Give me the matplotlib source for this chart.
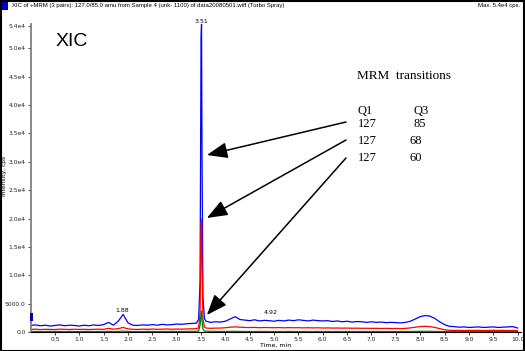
import numpy as np
import matplotlib
matplotlib.use('Agg')
import matplotlib.pyplot as plt
from matplotlib.patches import Rectangle

# Chromatogram data (cps)
# part A: 0.0 .. 3.4 min every 0.1 min
blue_a = [1150, 1250, 1100, 1200, 1050, 1150, 1250, 1100, 1200, 1150, 1050, 1200,
          1100, 1250, 1150, 1300, 1700, 1200, 1900, 3100, 1600, 1200, 1150, 1250,
          1200, 1300, 1200, 1350, 1250, 1300, 1400, 1350, 1450, 1500, 1550]
red_a = [450, 500, 420, 480, 460, 430, 500, 470, 440, 490, 450, 480, 430, 470, 500,
         460, 650, 500, 600, 800, 550, 480, 450, 500, 470, 520, 480, 500, 530, 490,
         520, 500, 540, 560, 580]
green_a = [80, 100, 70, 90, 110, 80, 95, 70, 100, 85, 75, 105, 90, 80, 100, 85, 120,
           90, 110, 150, 100, 85, 90, 80, 100, 95, 85, 100, 90, 110, 95, 100, 110,
           120, 130]

# part B: the spike at 3.51 min
spike_t = [3.45, 3.48, 3.50, 3.51, 3.52, 3.54, 3.57]
blue_s = [2200, 9000, 52000, 54300, 31000, 6000, 2400]
red_s = [700, 3500, 18500, 19900, 11000, 2200, 900]
green_s = [150, 1200, 3300, 3700, 2000, 500, 150]

# part C: 3.6 .. 10.0 min every 0.1 min
blue_c = [1900, 1700, 1800, 1750, 1900, 2300, 2700, 2200, 2100, 2000, 2150, 1950,
          2050, 2000, 1900, 2050, 1950, 2100, 2000, 2150, 2050, 1950, 2100, 2000,
          1950, 2000, 1850, 1950, 1800, 1900, 1750, 1850, 1800, 1700, 1800, 1700,
          1750, 1650, 1700, 1650, 1600, 1700, 1900, 2300, 2700, 2900, 2800, 2400,
          1800, 1300, 1000, 950, 850, 900, 800, 850, 900, 800, 850, 900, 800, 850,
          900, 950, 700]
red_c = [700, 650, 680, 700, 750, 850, 900, 850, 800, 780, 800, 760, 790, 770, 750,
         780, 740, 770, 750, 760, 730, 750, 720, 740, 700, 720, 690, 700, 680, 690,
         660, 680, 650, 660, 640, 650, 620, 640, 610, 620, 600, 640, 720, 850, 950,
         1000, 950, 800, 600, 400, 300, 280, 300, 260, 290, 270, 300, 260, 280, 300,
         270, 290, 260, 280, 250]
green_c = [150, 120, 110, 100, 95, 110, 120, 100, 90, 100, 85, 95, 100, 90, 80, 95,
           85, 100, 90, 80, 95, 85, 90, 100, 80, 90, 85, 95, 80, 90, 85, 80, 95, 85,
           80, 90, 85, 80, 90, 80, 85, 90, 95, 110, 120, 130, 120, 100, 90, 80, 70,
           75, 70, 80, 65, 75, 70, 80, 70, 65, 75, 70, 80, 70, 65]

time_a = np.round(np.arange(0.0, 3.41, 0.1), 2)
time_c = np.round(np.arange(3.6, 10.01, 0.1), 2)
time = np.concatenate([time_a, spike_t, time_c])
blue = np.concatenate([blue_a, blue_s, blue_c])
red = np.concatenate([red_a, red_s, red_c])
green = np.concatenate([green_a, green_s, green_c])

peak_labels = [(1.88, 3300, '1.88'), (3.51, 54300, '3.51'), (4.92, 3000, '4.92')]

x_ticks = np.round(np.arange(0.5, 10.01, 0.5), 1)
y_ticks = [0, 5000, 10000, 15000, 20000, 25000, 30000, 35000, 40000, 45000, 50000, 54000]
y_tick_labels = ['0.0', '5000.0', '1.0e4', '1.5e4', '2.0e4', '2.5e4', '3.0e4',
                 '3.5e4', '4.0e4', '4.5e4', '5.0e4', '5.4e4']

rows = [('Q1', 'Q3'), ('127', '85'), ('127', '68'), ('127', '60')]

W, H = 525, 351
fig = plt.figure(figsize=(W / 100, H / 100), dpi=100)
ax = fig.add_axes([30.6 / W, 19 / H, 490.4 / W, 308 / H])

ax.plot(time, blue, color='#0000ff', lw=0.9)
ax.plot(time, red, color='#ff0000', lw=0.9)
ax.plot(time, green, color='#008000', lw=0.9)

ax.set_xlim(0, 10.07)
ax.set_ylim(0, 54300)
ax.set_xticks(x_ticks)
ax.set_xticklabels([f'{v:.1f}' for v in x_ticks])
ax.set_yticks(y_ticks)
ax.set_yticklabels(y_tick_labels)
ax.tick_params(labelsize=4.3, length=2, width=0.6, pad=1.5, colors='#222222')
ax.spines['top'].set_visible(False)
ax.spines['right'].set_visible(False)
ax.spines['left'].set_color('#808080')
ax.spines['left'].set_linewidth(1.3)
ax.spines['bottom'].set_linewidth(0.8)
ax.set_xlabel('Time, min', fontsize=4.5, labelpad=1)

for x, y, s in peak_labels:
    ax.text(x, y, s, fontsize=4.5, ha='center', va='bottom', clip_on=False)

# header line
fig.text(12 / W, 1 - 6 / H,
         'XIC of +MRM (3 pairs): 127.0/85.0 amu from Sample 4 (unk- 1100) of data20080501.wiff (Turbo Spray)',
         fontsize=4.3, family='Liberation Sans', va='center')
fig.text(520 / W, 1 - 6 / H, 'Max. 5.4e4 cps.', fontsize=4.3,
         family='Liberation Sans', va='center', ha='right')
fig.patches.append(Rectangle((2, H - 10), 6, 9, transform=None,
                             facecolor='#0000cc', edgecolor='none'))
fig.patches.append(Rectangle((29.5, H - 321), 3, 8, transform=None,
                             facecolor='#0000aa', edgecolor='none'))
fig.text(4.5 / W, 175 / H, 'Intensity, cps', fontsize=4.3, rotation=90,
         ha='center', va='center')

fig.text(56 / W, 1 - 41 / H, 'XIC', fontsize=14, family='Liberation Sans',
         va='center')

serif = 'Liberation Serif'
fig.text(357 / W, 1 - 76 / H, 'MRM  transitions', fontsize=9.5, family=serif,
         va='center')
row_y = [111, 124, 141, 158]
for (q1, q3), yy in zip(rows, row_y):
    fig.text(358 / W, 1 - yy / H, q1, fontsize=9, family=serif, va='center')
    x3 = 413 if q3 in ('Q3', '85') else 410
    fig.text(x3 / W, 1 - yy / H, q3, fontsize=9, family=serif, va='center')

# arrows pointing at the three transitions
tips = [(3.62, 31200), (3.62, 20100), (3.62, 3000)]
tails = [122, 140, 158]
for (tx, ty), yy in zip(tips, tails):
    ax.annotate('', xy=(tx, ty), xycoords='data',
                xytext=(346, H - yy), textcoords='figure pixels',
                arrowprops=dict(arrowstyle='-|>,head_length=0.9,head_width=0.35',
                                mutation_scale=14, lw=1.1, color='black',
                                shrinkA=0, shrinkB=0))

fig.patches.append(Rectangle((0.5, 0.5), W - 1.5, H - 1.5, transform=None,
                             facecolor='none', edgecolor='black', lw=1.5))

fig.savefig('out.png', dpi=100)
